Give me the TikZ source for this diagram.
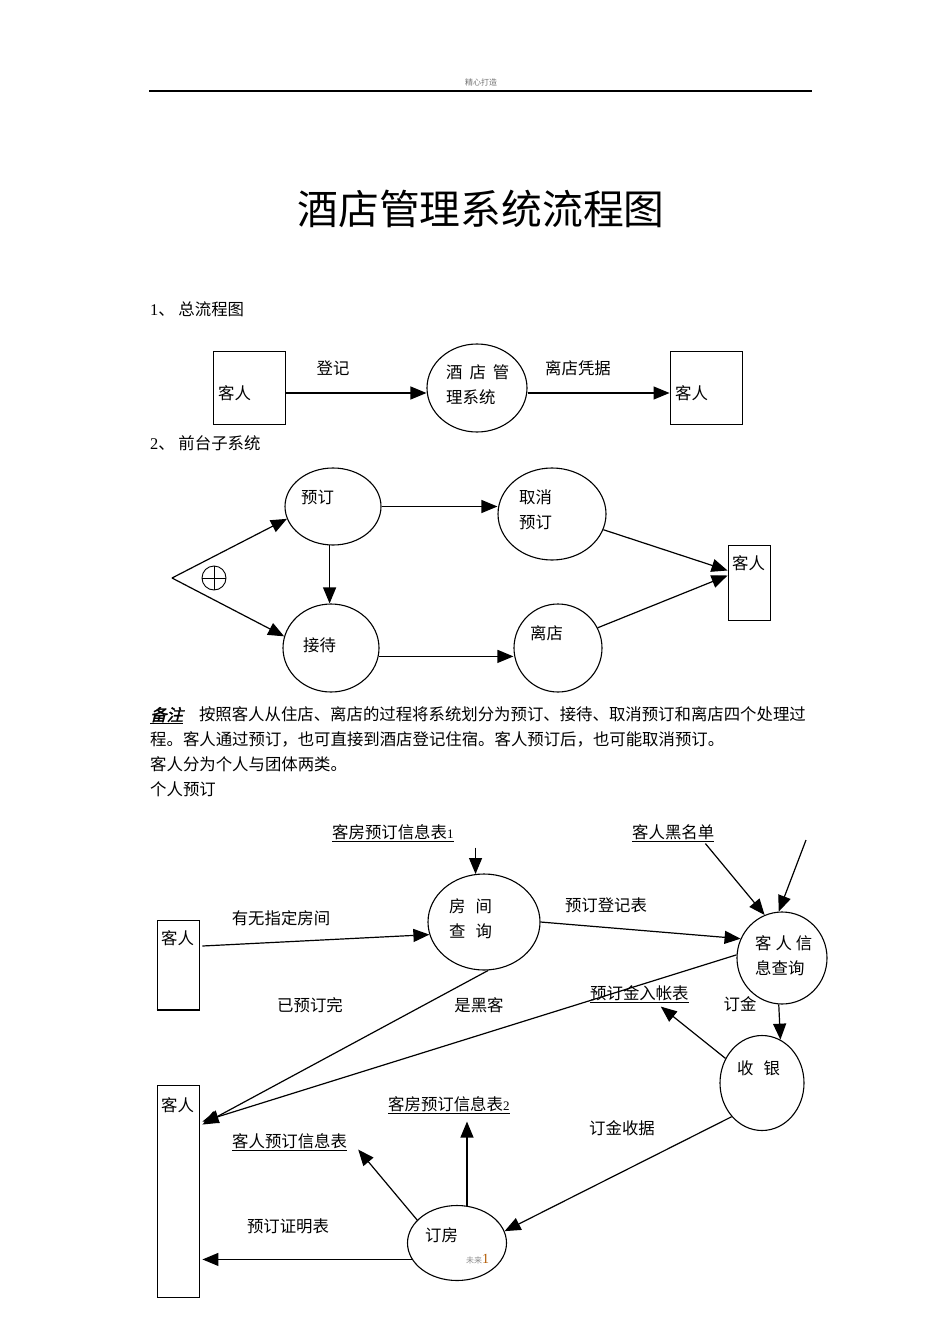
\documentclass[tikz,border=0pt]{standalone}
\usepackage{fontspec}
\setmainfont{Noto Sans CJK SC}
\newfontfamily\numfont{Liberation Serif}
\newfontfamily\slantfont[FakeSlant=0.25, FakeBold=2]{Noto Sans CJK SC}
\usetikzlibrary{shapes.geometric, arrows.meta, calc}

\tikzstyle{process} = [
    ellipse,
    draw = black,
    line width = 1.1pt,
    inner sep = 0pt
]
\tikzstyle{entity} = [
    rectangle,
    draw = black,
    line width = 0.9pt,
    inner sep = 0pt
]
\tikzstyle{flowtext} = [
    inner sep = 0pt,
    align = left,
    font = \fontsize{16.4}{24.7}\selectfont
]
\tikzstyle{arrow} = [line width = 1.2pt, -{Triangle[length = 16pt, width = 13pt]}]

\newcommand{\storename}[1]{\underline{#1}}

\begin{document}
\begin{tikzpicture}[x = 1pt, y = -1pt]
    \useasboundingbox (0,0) rectangle (945,1337);

    % page head
    \node (header) [font = \fontsize{8}{8}\selectfont, text = black!55, anchor = base, inner sep = 0pt]
        at (481,86) {精心打造};
    \coordinate (rule left) at (149,91);
    \coordinate (rule right) at (812,91);
    \draw [line width = 1.3pt] (rule left) -- (rule right);

    \node (title) [font = \fontsize{40.8}{40.8}\selectfont, anchor = base, inner sep = 0pt]
        at (481,225) {酒店管理系统流程图};

    % 1
    \node (sec one) [flowtext, anchor = base west] at (150,316) {{\numfont 1}、\ 总流程图};

    \node (guest a) [entity, minimum width = 72pt, minimum height = 73pt] at (249,387.5) {};
    \node (guest a text) [flowtext, anchor = base west] at (218,399) {客人};

    \node (hotel) [process, minimum width = 100pt, minimum height = 88pt] at (477,388) {};
    \node (hotel text) [flowtext, anchor = base west] at (446,403)
        {酒\hspace{7pt}店\hspace{7pt}管\\理系统};

    \node (guest b) [entity, minimum width = 72pt, minimum height = 73pt] at (706,387.5) {};
    \node (guest b text) [flowtext, anchor = base west] at (675,399) {客人};

    \draw [arrow] ($(guest a.east)+(0,5.5)$) -- ($(hotel.west)+(0,5)$);
    \node (checkin) [flowtext, anchor = base] at (333,374) {登记};

    \draw [arrow] ($(hotel.east)+(0,5)$) -- ($(guest b.west)+(0,5.5)$);
    \node (receipt) [flowtext, anchor = base] at (578,374) {离店凭据};

    % 2
    \node (sec two) [flowtext, anchor = base west] at (150,449) {{\numfont 2}、\ 前台子系统};

    \node (book) [process, minimum width = 96pt, minimum height = 77pt] at (333,506.5) {};
    \node (book text) [flowtext, anchor = base west] at (301,503) {预订};

    \node (cancel) [process, minimum width = 108pt, minimum height = 92pt] at (552,514) {};
    \node (cancel text) [flowtext, anchor = base west] at (519,528) {取消\\预订};

    \node (reception) [process, minimum width = 96pt, minimum height = 88pt] at (331,648) {};
    \node (reception text) [flowtext, anchor = base west] at (303,651) {接待};

    \node (leave) [process, minimum width = 88pt, minimum height = 88pt] at (558,648) {};
    \node (leave text) [flowtext, anchor = base west] at (530,639) {离店};

    \node (guest c) [entity, minimum width = 42pt, minimum height = 75pt] at (749,582.5) {};
    \node (guest c text) [flowtext, anchor = base west] at (732,569) {客人};

    \coordinate (fork) at (172,578);
    \node (xor) [circle, draw = black, line width = 0.9pt, minimum size = 24pt, inner sep = 0pt]
        at (214,578) {};
    \draw [line width = 0.9pt] (xor.north) -- (xor.south);
    \draw [line width = 0.9pt] (xor.west) -- (xor.east);

    \draw [arrow] (fork) -- (book.195);
    \draw [arrow] (fork) -- (reception.166);
    \draw [arrow] (book.265) -- (book.265 |- reception.north);
    \draw [arrow] (book.east) -- (book.east -| cancel.west);
    \draw [arrow] (reception.350) -- (reception.350 -| leave.west);
    \draw [arrow] (cancel.343) -- ($(guest c.west)+(0,-12)$);
    \draw [arrow] (leave.27) -- ($(guest c.west)+(0,-7)$);

    % note
    \node (note) [flowtext, anchor = base west] at (150,795)
        {\underline{\slantfont 备注}\hspace{16pt}按照客人从住店、离店的过程将系统划分为预订、接待、取消预订和离店四个处理过\\
         程。客人通过预订，也可直接到酒店登记住宿。客人预订后，也可能取消预订。\\
         客人分为个人与团体两类。\\
         个人预订};

    % individual booking
    \node (store a) [flowtext, anchor = base west] at (332,838)
        {\storename{客房预订信息表{\numfont\fontsize{13}{13}\selectfont 1}}};
    \node (blacklist) [flowtext, anchor = base west] at (632,838) {\storename{客人黑名单}};

    \node (room query) [process, minimum width = 112pt, minimum height = 96pt] at (484,922) {};
    \node (room query text) [flowtext, anchor = base west] at (449,937)
        {房\hspace{10pt}间\\查\hspace{10pt}询};

    \node (guest info) [process, minimum width = 90pt, minimum height = 92pt] at (782,958) {};
    \node (guest info text) [flowtext, anchor = base west] at (755,974)
        {客\hspace{4pt}人\hspace{4pt}信\\息查询};

    \node (guest d) [entity, minimum width = 42pt, minimum height = 90pt] at (178,965) {};
    \draw [line width = 2pt] (guest d.south west) -- (guest d.south east);
    \node (guest d text) [flowtext, anchor = base west] at (161,944) {客人};

    \node (cashier) [process, minimum width = 84pt, minimum height = 95pt] at (762,1083) {};
    \node (cashier text) [flowtext, anchor = base west] at (737,1074) {收\hspace{10pt}银};

    \node (guest e) [entity, minimum width = 42pt, minimum height = 212pt] at (178,1191) {};
    \node (guest e text) [flowtext, anchor = base west] at (161,1111) {客人};

    \node (deposit book) [flowtext, anchor = base west] at (590,999) {\storename{预订金入帐表}};
    \node (store b) [flowtext, anchor = base west] at (388,1110)
        {\storename{客房预订信息表{\numfont\fontsize{13}{13}\selectfont 2}}};
    \node (guest form) [flowtext, anchor = base west] at (232,1147) {\storename{客人预订信息表}};

    \node (order) [process, minimum width = 99pt, minimum height = 75pt] at (457,1243) {};
    \node (order text) [flowtext, anchor = base west] at (425,1241) {订房};
    \node (order mark) [inner sep = 0pt, anchor = base west, font = \fontsize{8}{8}\selectfont, text = black!45]
        at (466,1263) {未来{\numfont\fontsize{14}{14}\selectfont\color{orange!70!black}1}};

    \coordinate (outside) at (806,840);

    \draw [arrow] ($(room query.100 |- store a.south)+(0,6)$) -- (room query.100);
    \draw [arrow] ($(blacklist.south east)+(-9,2)$) -- (guest info.112);
    \draw [arrow] (outside) -- (guest info.94);

    \draw [arrow] ($(guest d.east)+(3,-19)$) -- (room query.193);
    \node (ask room) [flowtext, anchor = base] at (281,924) {有无指定房间};

    \draw [arrow] (room query.east) -- (guest info.155);
    \node (reg form) [flowtext, anchor = base] at (606,911) {预订登记表};

    \draw [arrow] (room query.275) -- ($(guest e.north east)+(3,40)$);
    \node (full) [flowtext, anchor = base] at (310,1011) {已预订完};

    \draw [arrow] (guest info.176) -- ($(guest e.north east)+(3,37)$);
    \node (hacker) [flowtext, anchor = base] at (479,1011) {是黑客};

    \draw [arrow] (cashier.146) -- ($(deposit book.south east)+(-28,4)$);

    \draw [arrow] (guest info.266) -- (cashier.67);
    \node (deposit) [flowtext, anchor = base] at (740,1010) {订金};

    \draw [arrow] (cashier.228) -- (order.14);
    \node (deposit receipt) [flowtext, anchor = base] at (622,1134) {订金收据};

    \draw [arrow] (order.150) -- ($(guest form.south east)+(11,-1)$);
    \draw [arrow] (order.75) -- ($(order.75 |- store b.south)+(0,8)$);

    \draw [arrow] (order.200) -- ($(order.200 -| guest e.east)+(3,0)$);
    \node (proof) [flowtext, anchor = base] at (288,1232) {预订证明表};
\end{tikzpicture}
\end{document}
